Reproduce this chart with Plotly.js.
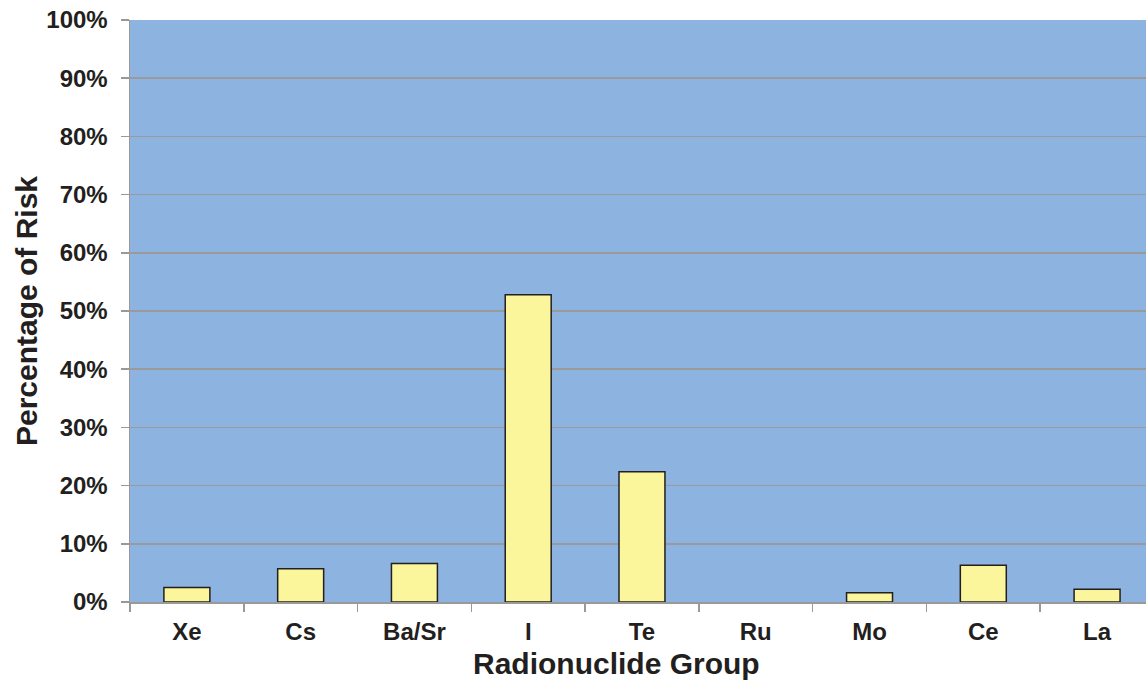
<!DOCTYPE html>
<html>
<head>
<meta charset="utf-8">
<script src="https://cdn.plot.ly/plotly-3.0.1.min.js"></script>
<style>html,body{margin:0;padding:0;background:#fff}#chart{width:1146px;height:682px}</style>
</head>
<body>
<div id="chart"></div>
<script>
const categories = ["Xe", "Cs", "Ba/Sr", "I", "Te", "Ru", "Mo", "Ce", "La"];
const riskPercent = [2.5, 5.7, 6.6, 52.8, 22.4, 0, 1.6, 6.3, 2.2];
const yTickValues = [0, 10, 20, 30, 40, 50, 60, 70, 80, 90, 100];
const yTickLabels = yTickValues.map(v => v + "%");

const font = "Liberation Sans, Arial, sans-serif";
const trace = {
  type: "bar",
  x: categories,
  y: riskPercent,
  marker: {color: "#FBF59B", line: {color: "#231F20", width: riskPercent.map(v => v > 0 ? 1.5 : 0)}},
  hoverinfo: "x+y"
};
const layout = {
  width: 1146, height: 682,
  margin: {l: 130, r: 0, t: 20, b: 80},
  paper_bgcolor: "#ffffff",
  plot_bgcolor: "#8DB3E0",
  bargap: 0.596,
  showlegend: false,
  xaxis: {
    type: "category",
    range: [-0.5, 8.43],
    tickson: "boundaries",
    ticks: "outside", ticklen: 8, tickcolor: "#999999", tickwidth: 1.5,
    showline: true, linecolor: "#999999", linewidth: 1.5,
    showgrid: false,
    ticklabelstandoff: 8,
    tickfont: {family: font, size: 24, color: "#231F20", weight: "bold"},
    fixedrange: true
  },
  yaxis: {
    range: [0, 100],
    tickvals: yTickValues, ticktext: yTickLabels,
    ticks: "outside", ticklen: 8, tickcolor: "#999999", tickwidth: 1.5,
    showline: true, linecolor: "#999999", linewidth: 1.5,
    showgrid: true, gridcolor: "#9A9A9A", gridwidth: 1.5,
    zeroline: false,
    ticklabelstandoff: 8,
    tickfont: {family: font, size: 24, color: "#231F20", weight: "bold"},
    title: {text: "<b>Percentage of Risk</b>", font: {family: font, size: 30, color: "#231F20"}, standoff: 0},
    fixedrange: true
  },
  annotations: [{
    text: "<b>Radionuclide Group</b>",
    xref: "paper", yref: "paper",
    x: (616 - 130) / 1016, y: -0.105,
    xanchor: "center", yanchor: "middle",
    showarrow: false,
    font: {family: font, size: 30, color: "#231F20"}
  }]
};
Plotly.newPlot("chart", [trace], layout, {displayModeBar: false, staticPlot: true});
</script>
</body>
</html>
